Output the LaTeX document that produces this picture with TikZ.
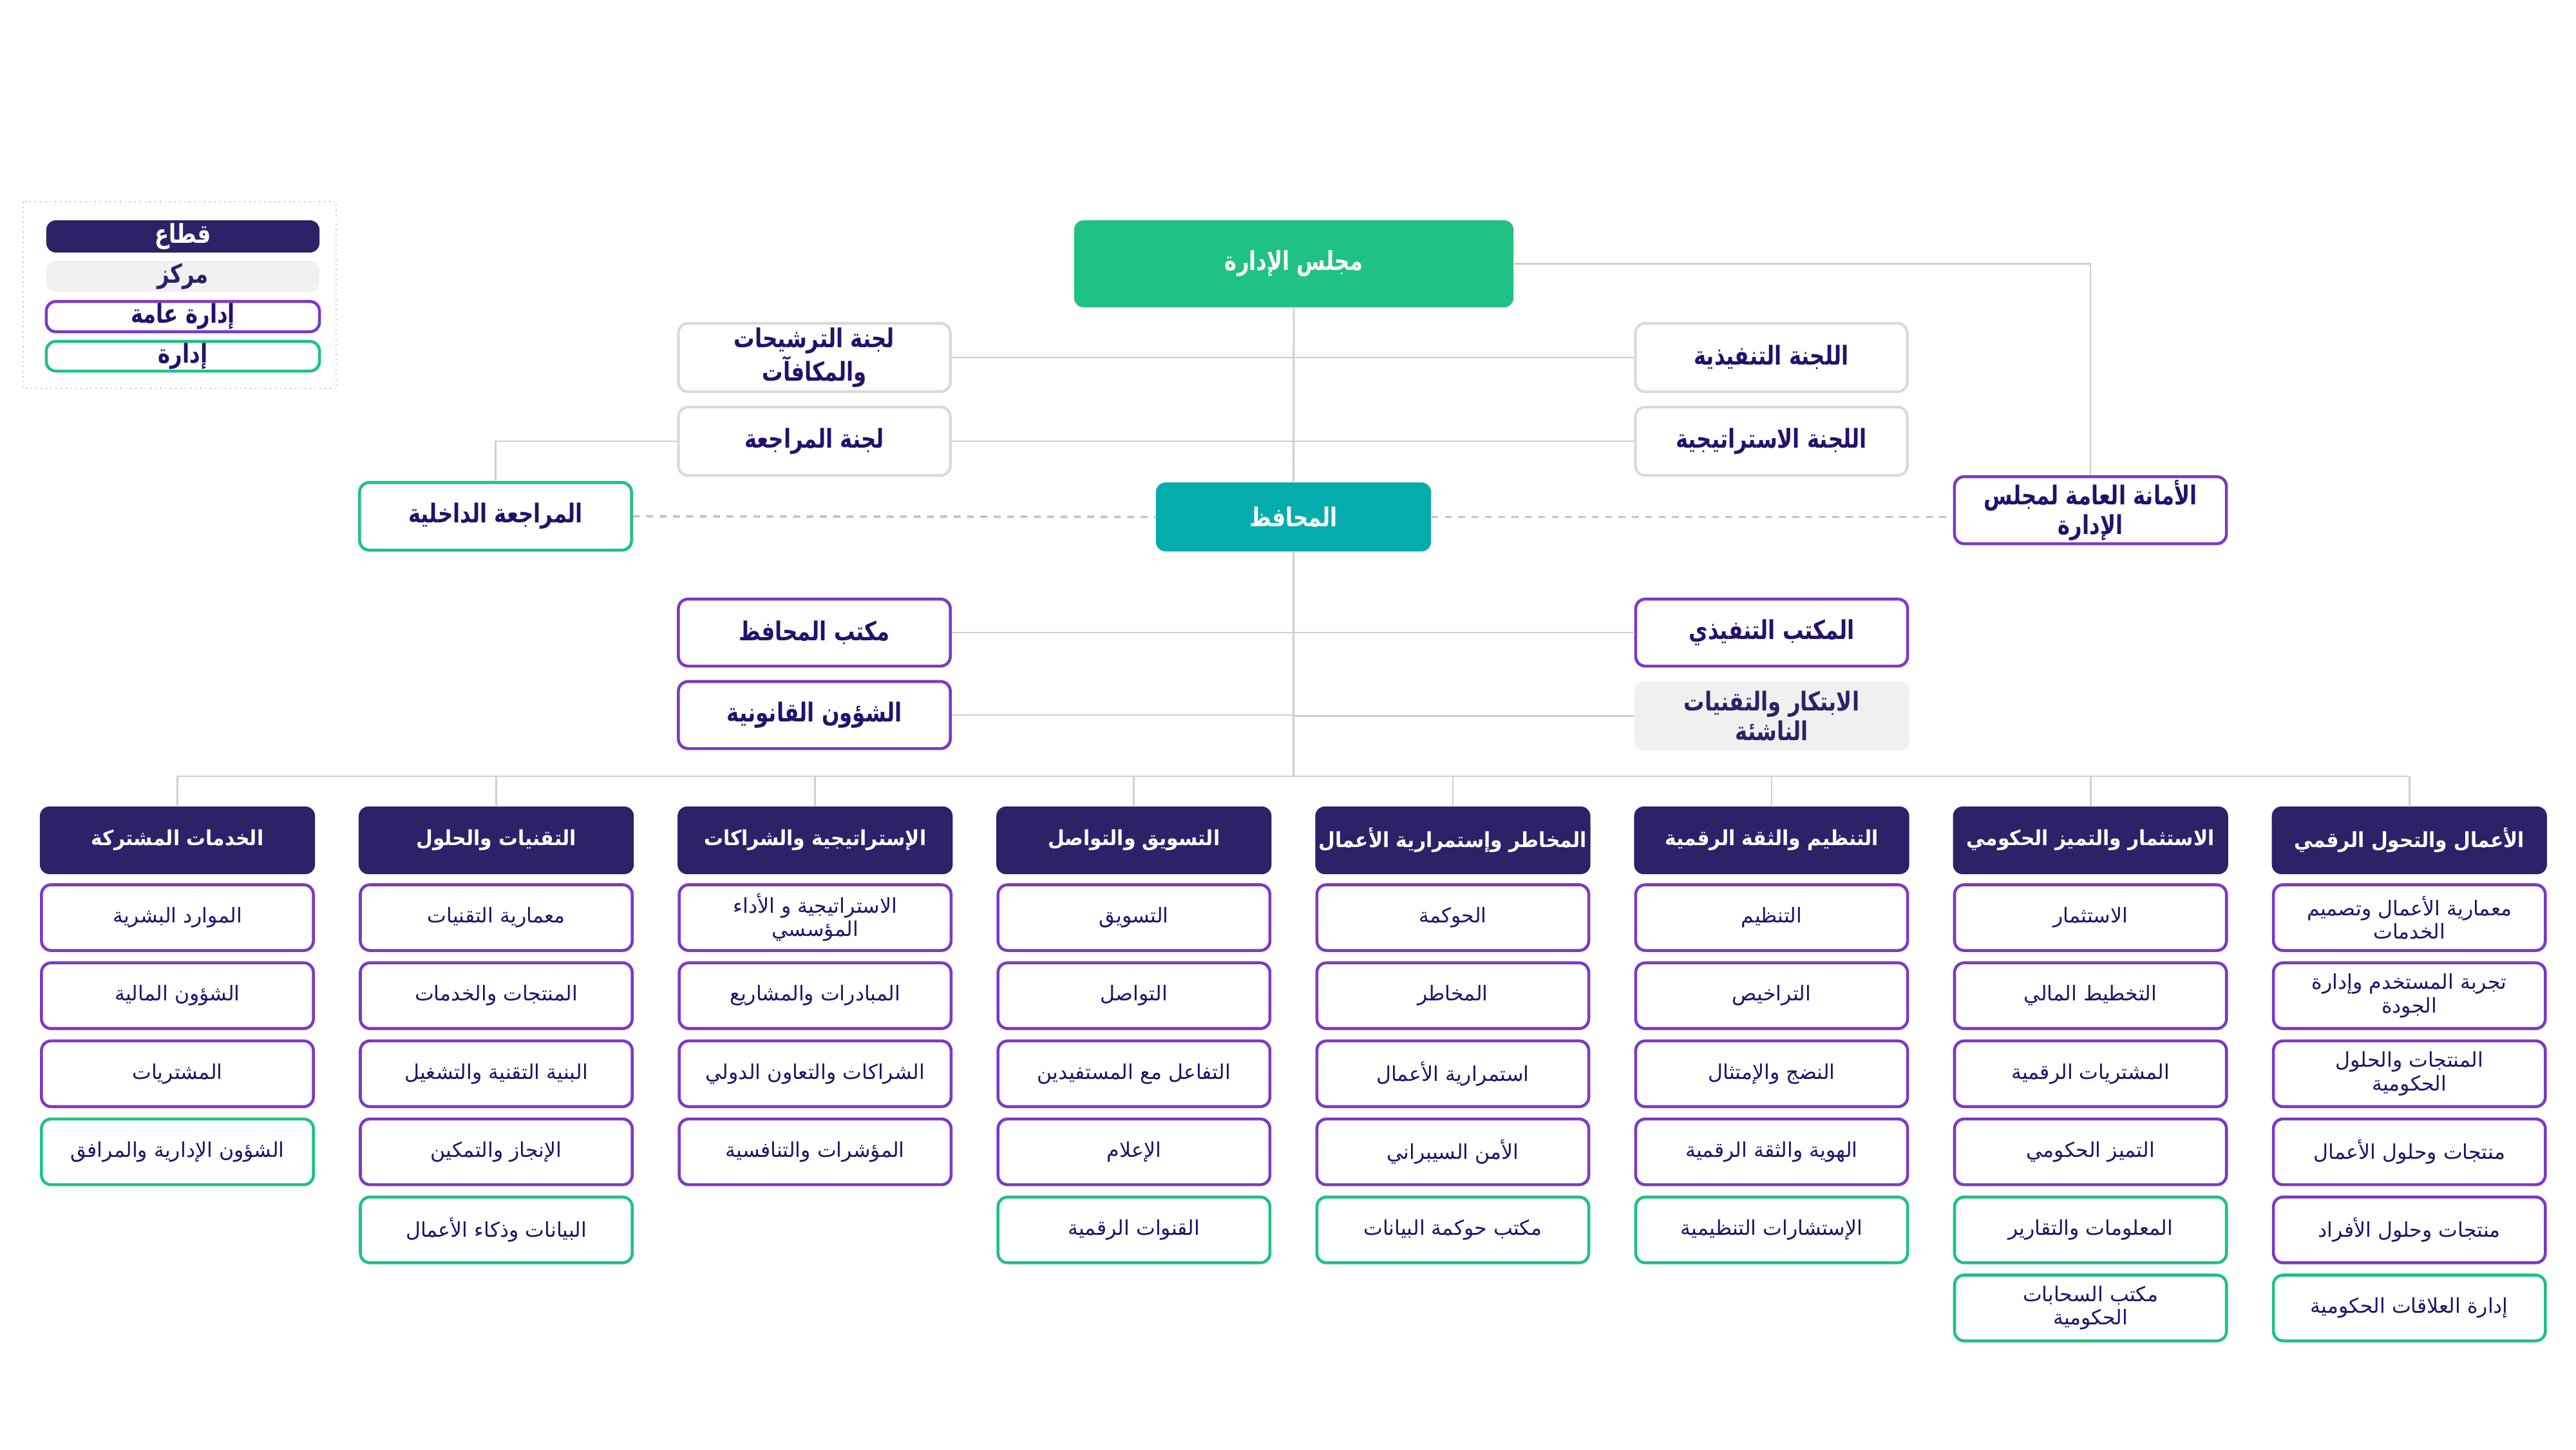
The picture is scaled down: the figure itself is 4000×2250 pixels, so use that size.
\documentclass[tikz,border=0pt]{standalone}
\usepackage{fontspec}
\setmainfont{DejaVu Sans}
\TeXXeTstate=1
\newfontfamily\arfont[Script=Arabic]{DejaVu Sans}
\newfontfamily\arcond[Script=Arabic,FakeStretch=0.80]{DejaVu Sans Bold}
\newfontfamily\arhead[Script=Arabic,FakeStretch=0.92]{DejaVu Sans Bold}
\newcommand\artx[1]{{\arfont\beginR #1\endR}}
\newcommand\arcd[1]{{\arcond\beginR #1\endR}}
\newcommand\arhd[1]{{\arhead\beginR #1\endR}}
\definecolor{navy}{HTML}{2B2268}
\definecolor{purp}{HTML}{7D38C8}
\definecolor{grn}{HTML}{1FC185}
\definecolor{teal}{HTML}{05ACAE}
\definecolor{lgray}{HTML}{DADADA}
\definecolor{lfill}{HTML}{F0F0F0}
\definecolor{txt}{HTML}{24116C}
\definecolor{linec}{HTML}{CFCFCF}
\definecolor{dotc}{HTML}{C4C4C4}
\tikzset{
  basebox/.style={rounded corners=0.15cm, align=center, inner sep=0pt, minimum width=4.22cm, minimum height=1.02cm, text=txt},
  subbox/.style={basebox, draw=purp, line width=1.3pt, fill=white, font=\fontsize{9}{10.3}\selectfont},
  subgbox/.style={subbox, draw=grn},
  secbox/.style={basebox, fill=navy, text=white, minimum width=4.27cm, minimum height=1.05cm, font=\fontsize{9.2}{10.3}\selectfont},
  topbox/.style={basebox, font=\fontsize{11.5}{13}\selectfont},
  combox/.style={topbox, draw=lgray, line width=1.2pt, fill=white},
  gabox/.style={topbox, draw=purp, line width=1.3pt, fill=white},
  adbox/.style={topbox, draw=grn, line width=1.3pt, fill=white},
  legbox/.style={basebox, minimum width=4.24cm, font=\fontsize{11.5}{12}\selectfont},
  conn/.style={draw=linec, line width=0.8pt},
  dotl/.style={draw=dotc, line width=1.1pt, dash pattern=on 3pt off 2.9pt},
}
\begin{document}
\begin{tikzpicture}[x=0.01cm,y=-0.01cm]
\fill[white] (0,0) rectangle (4000,2250);
\useasboundingbox (0,0) rectangle (4000,2250);

% legend
\draw[dotc, line width=0.6pt, dash pattern=on 0.5pt off 1.7pt] (36,313) rectangle (522,603);
\node[legbox, fill=navy, text=white, minimum height=0.50cm] (lsec) at (284,367) {\arcd{قطاع}};
\node[legbox, fill=lfill, text=navy, minimum height=0.48cm] (lcen) at (284,429) {\arcd{مركز}};
\node[legbox, draw=purp, line width=1.3pt, fill=white, minimum height=0.47cm] (lga) at (284,491.5) {\arcd{إدارة عامة}};
\node[legbox, draw=grn, line width=1.3pt, fill=white, minimum height=0.46cm] (lad) at (284,553) {\arcd{إدارة}};

% top level
\node[topbox, fill=grn, text=white, minimum width=6.82cm, minimum height=1.35cm] (board) at (2009,409.5) {\arcd{مجلس الإدارة}};
\node[combox, minimum height=1.06cm] (nom) at (1264.5,555) {\arcd{لجنة الترشيحات}\\\arcd{والمكافآت}};
\node[combox, minimum height=1.06cm] (audit) at (1264.5,685) {\arcd{لجنة المراجعة}};
\node[combox, minimum height=1.06cm] (execc) at (2750.5,555) {\arcd{اللجنة التنفيذية}};
\node[combox, minimum height=1.06cm] (strat) at (2750.5,685) {\arcd{اللجنة الاستراتيجية}};
\node[topbox, fill=teal, text=white, minimum width=4.27cm, minimum height=1.07cm] (gov) at (2008.5,802.5) {\arcd{المحافظ}};
\node[adbox, minimum height=1.05cm] (intaudit) at (769.5,801.5) {\arcd{المراجعة الداخلية}};
\node[gabox, minimum height=1.04cm] (secr) at (3246,792) {\arcd{الأمانة العامة لمجلس}\\\arcd{الإدارة}};
\node[gabox, minimum height=1.04cm] (govoff) at (1264.5,982) {\arcd{مكتب المحافظ}};
\node[gabox, minimum height=1.04cm] (legal) at (1264.5,1110) {\arcd{الشؤون القانونية}};
\node[gabox, minimum height=1.04cm] (execoff) at (2751,982) {\arcd{المكتب التنفيذي}};
\node[topbox, fill=lfill, text=navy, minimum width=4.27cm, minimum height=1.06cm] (innov) at (2751,1111.5) {\arcd{الابتكار والتقنيات}\\\arcd{الناشئة}};

% sector headers
\node[secbox] (s0) at (275.5,1304.5) {\arhd{الخدمات المشتركة}};
\node[secbox] (s1) at (770.6,1304.5) {\arhd{التقنيات والحلول}};
\node[secbox] (s2) at (1265.7,1304.5) {\arhd{الإستراتيجية والشراكات}};
\node[secbox] (s3) at (1760.8,1304.5) {\arhd{التسويق والتواصل}};
\node[secbox] (s4) at (2255.9,1304.5) {\arhd{المخاطر وإستمرارية الأعمال}};
\node[secbox] (s5) at (2751,1304.5) {\arhd{التنظيم والثقة الرقمية}};
\node[secbox] (s6) at (3246.1,1304.5) {\arhd{الاستثمار والتميز الحكومي}};
\node[secbox] (s7) at (3741.2,1304.5) {\arhd{الأعمال والتحول الرقمي}};

% column 0
\node[subbox] (b0a) at (275.5,1424.5) {\artx{الموارد البشرية}};
\node[subbox] (b0b) at (275.5,1545.7) {\artx{الشؤون المالية}};
\node[subbox] (b0c) at (275.5,1666.9) {\artx{المشتريات}};
\node[subgbox] (b0d) at (275.5,1788.1) {\artx{الشؤون الإدارية والمرافق}};
% column 1
\node[subbox] (b1a) at (770.6,1424.5) {\artx{معمارية التقنيات}};
\node[subbox] (b1b) at (770.6,1545.7) {\artx{المنتجات والخدمات}};
\node[subbox] (b1c) at (770.6,1666.9) {\artx{البنية التقنية والتشغيل}};
\node[subbox] (b1d) at (770.6,1788.1) {\artx{الإنجاز والتمكين}};
\node[subgbox] (b1e) at (770.6,1909.3) {\artx{البيانات وذكاء الأعمال}};
% column 2
\node[subbox] (b2a) at (1265.7,1424.5) {\artx{الاستراتيجية و الأداء}\\\artx{المؤسسي}};
\node[subbox] (b2b) at (1265.7,1545.7) {\artx{المبادرات والمشاريع}};
\node[subbox] (b2c) at (1265.7,1666.9) {\artx{الشراكات والتعاون الدولي}};
\node[subbox] (b2d) at (1265.7,1788.1) {\artx{المؤشرات والتنافسية}};
% column 3
\node[subbox] (b3a) at (1760.8,1424.5) {\artx{التسويق}};
\node[subbox] (b3b) at (1760.8,1545.7) {\artx{التواصل}};
\node[subbox] (b3c) at (1760.8,1666.9) {\artx{التفاعل مع المستفيدين}};
\node[subbox] (b3d) at (1760.8,1788.1) {\artx{الإعلام}};
\node[subgbox] (b3e) at (1760.8,1909.3) {\artx{القنوات الرقمية}};
% column 4
\node[subbox] (b4a) at (2255.9,1424.5) {\artx{الحوكمة}};
\node[subbox] (b4b) at (2255.9,1545.7) {\artx{المخاطر}};
\node[subbox] (b4c) at (2255.9,1666.9) {\artx{استمرارية الأعمال}};
\node[subbox] (b4d) at (2255.9,1788.1) {\artx{الأمن السيبراني}};
\node[subgbox] (b4e) at (2255.9,1909.3) {\artx{مكتب حوكمة البيانات}};
% column 5
\node[subbox] (b5a) at (2751,1424.5) {\artx{التنظيم}};
\node[subbox] (b5b) at (2751,1545.7) {\artx{التراخيص}};
\node[subbox] (b5c) at (2751,1666.9) {\artx{النضج والإمتثال}};
\node[subbox] (b5d) at (2751,1788.1) {\artx{الهوية والثقة الرقمية}};
\node[subgbox] (b5e) at (2751,1909.3) {\artx{الإستشارات التنظيمية}};
% column 6
\node[subbox] (b6a) at (3246.1,1424.5) {\artx{الاستثمار}};
\node[subbox] (b6b) at (3246.1,1545.7) {\artx{التخطيط المالي}};
\node[subbox] (b6c) at (3246.1,1666.9) {\artx{المشتريات الرقمية}};
\node[subbox] (b6d) at (3246.1,1788.1) {\artx{التميز الحكومي}};
\node[subgbox] (b6e) at (3246.1,1909.3) {\artx{المعلومات والتقارير}};
\node[subgbox] (b6f) at (3246.1,2030.5) {\artx{مكتب السحابات}\\\artx{الحكومية}};
% column 7
\node[subbox] (b7a) at (3741.2,1424.5) {\artx{معمارية الأعمال وتصميم}\\\artx{الخدمات}};
\node[subbox] (b7b) at (3741.2,1545.7) {\artx{تجربة المستخدم وإدارة}\\\artx{الجودة}};
\node[subbox] (b7c) at (3741.2,1666.9) {\artx{المنتجات والحلول}\\\artx{الحكومية}};
\node[subbox] (b7d) at (3741.2,1788.1) {\artx{منتجات وحلول الأعمال}};
\node[subbox] (b7e) at (3741.2,1909.3) {\artx{منتجات وحلول الأفراد}};
\node[subgbox] (b7f) at (3741.2,2030.5) {\artx{إدارة العلاقات الحكومية}};

% connectors
\coordinate (busL) at (275.5,1205);
\coordinate (busR) at (3741.2,1205);
\draw[conn] (board.south) -- (gov.north);
\draw[conn] (gov.south) -- (gov.south |- busL);
\draw[conn] (busL) -- (busR);
\foreach \i in {0,...,7} {\draw[conn] (s\i.north) -- (s\i.north |- busL);}
\draw[conn] (nom.east) -- (nom.east -| board.south);
\draw[conn] (audit.east) -- (audit.east -| board.south);
\draw[conn] (execc.west) -- (execc.west -| board.south);
\draw[conn] (strat.west) -- (strat.west -| board.south);
\draw[conn] (audit.west) -| (intaudit.north);
\draw[conn] (board.east) -| (secr.north);
\draw[conn] (govoff.east) -- (govoff.east -| board.south);
\draw[conn] (legal.east) -- (legal.east -| board.south);
\draw[conn] (execoff.west) -- (execoff.west -| board.south);
\draw[conn] (innov.west) -- (innov.west -| board.south);
\draw[dotl] (intaudit.east) -- (gov.west);
\draw[dotl] (gov.east) -- (gov.east -| secr.west);
\end{tikzpicture}
\end{document}
